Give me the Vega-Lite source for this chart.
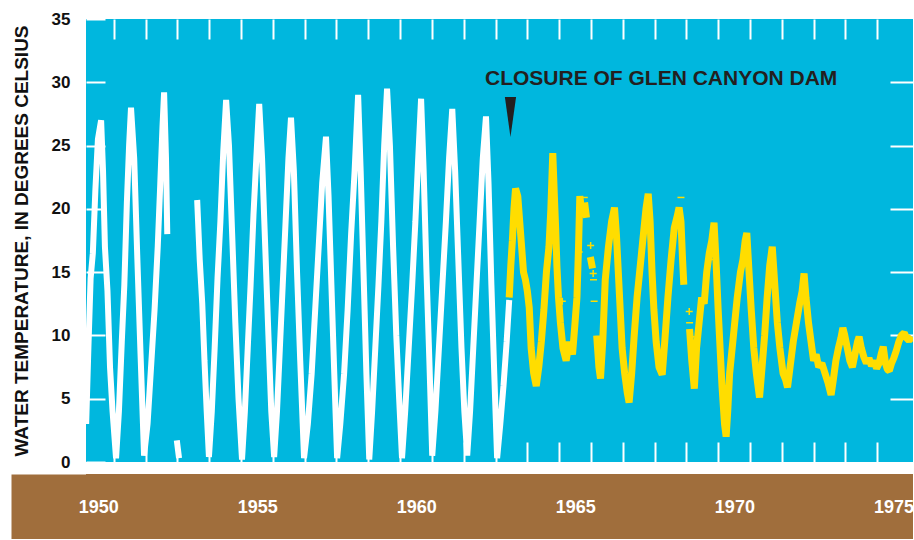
{
  "$schema": "https://vega.github.io/schema/vega-lite/v6.json",
  "background": "white",
  "padding": {"left": 12, "top": 10, "right": 0, "bottom": 0},
  "spacing": 4,
  "config": {
    "view": {"stroke": null},
    "font": "Liberation Sans",
    "axis": {"grid": false, "domain": false}
  },
  "datasets": {
    "temps": [
      {"t":1950.13,"v":3,"s":"pre"},{"t":1950.2,"v":9,"s":"pre"},{"t":1950.27,"v":14.5,"s":"pre"},{"t":1950.34,"v":16.5,"s":"pre"},{"t":1950.42,"v":21.5,"s":"pre"},{"t":1950.5,"v":25.5,"s":"pre"},{"t":1950.6,"v":27,"s":"pre"},{"t":1950.66,"v":23,"s":"pre"},{"t":1950.72,"v":17,"s":"pre"},{"t":1950.8,"v":13.5,"s":"pre"},{"t":1950.88,"v":7.5,"s":"pre"},{"t":1950.96,"v":4,"s":"pre"},{"t":1951.07,"v":0.3,"s":"pre"},
      {"t":1951.16,"v":4,"s":"pre"},{"t":1951.25,"v":9.5,"s":"pre"},{"t":1951.33,"v":14,"s":"pre"},{"t":1951.41,"v":20.5,"s":"pre"},{"t":1951.48,"v":25,"s":"pre"},{"t":1951.54,"v":28,"s":"pre"},{"t":1951.64,"v":24,"s":"pre"},{"t":1951.74,"v":16,"s":"pre"},{"t":1951.84,"v":8.5,"s":"pre"},{"t":1951.95,"v":0.5,"s":"pre"},
      {"t":1952.06,"v":3,"s":"pre"},{"t":1952.17,"v":7.5,"s":"pre"},{"t":1952.28,"v":12,"s":"pre"},{"t":1952.38,"v":17,"s":"pre"},{"t":1952.46,"v":22,"s":"pre"},{"t":1952.53,"v":26.5,"s":"pre"},{"t":1952.58,"v":29.2,"s":"pre"},{"t":1952.64,"v":24,"s":"pre"},{"t":1952.68,"v":18,"s":"pre"},{"t":1952.8,"v":null,"s":"pre"},
      {"t":1952.98,"v":1.7,"s":"pre"},{"t":1953.05,"v":0.3,"s":"pre"},{"t":1953.3,"v":null,"s":"pre"},
      {"t":1953.62,"v":20.7,"s":"pre"},{"t":1953.7,"v":16,"s":"pre"},{"t":1953.78,"v":12.5,"s":"pre"},{"t":1953.85,"v":8,"s":"pre"},{"t":1953.92,"v":4,"s":"pre"},{"t":1953.99,"v":0.4,"s":"pre"},
      {"t":1954.08,"v":4,"s":"pre"},{"t":1954.17,"v":9,"s":"pre"},{"t":1954.26,"v":14.5,"s":"pre"},{"t":1954.35,"v":19,"s":"pre"},{"t":1954.44,"v":24.5,"s":"pre"},{"t":1954.53,"v":28.6,"s":"pre"},{"t":1954.62,"v":25,"s":"pre"},{"t":1954.72,"v":18,"s":"pre"},{"t":1954.82,"v":11,"s":"pre"},{"t":1954.92,"v":5,"s":"pre"},{"t":1955.03,"v":0.2,"s":"pre"},
      {"t":1955.12,"v":4,"s":"pre"},{"t":1955.21,"v":9,"s":"pre"},{"t":1955.3,"v":14,"s":"pre"},{"t":1955.39,"v":19.5,"s":"pre"},{"t":1955.48,"v":24,"s":"pre"},{"t":1955.57,"v":28.3,"s":"pre"},{"t":1955.66,"v":24,"s":"pre"},{"t":1955.76,"v":17,"s":"pre"},{"t":1955.86,"v":10,"s":"pre"},{"t":1955.95,"v":4,"s":"pre"},{"t":1956.04,"v":0.4,"s":"pre"},
      {"t":1956.13,"v":4,"s":"pre"},{"t":1956.22,"v":9,"s":"pre"},{"t":1956.31,"v":14,"s":"pre"},{"t":1956.4,"v":19,"s":"pre"},{"t":1956.49,"v":24,"s":"pre"},{"t":1956.57,"v":27.2,"s":"pre"},{"t":1956.66,"v":23,"s":"pre"},{"t":1956.76,"v":15,"s":"pre"},{"t":1956.86,"v":8,"s":"pre"},{"t":1956.98,"v":0.3,"s":"pre"},
      {"t":1957.1,"v":3,"s":"pre"},{"t":1957.22,"v":7,"s":"pre"},{"t":1957.33,"v":12,"s":"pre"},{"t":1957.44,"v":17,"s":"pre"},{"t":1957.55,"v":22,"s":"pre"},{"t":1957.67,"v":25.7,"s":"pre"},{"t":1957.75,"v":21,"s":"pre"},{"t":1957.84,"v":14,"s":"pre"},{"t":1957.93,"v":7,"s":"pre"},{"t":1958.02,"v":0.3,"s":"pre"},
      {"t":1958.12,"v":3,"s":"pre"},{"t":1958.24,"v":7,"s":"pre"},{"t":1958.35,"v":12,"s":"pre"},{"t":1958.46,"v":18,"s":"pre"},{"t":1958.57,"v":23,"s":"pre"},{"t":1958.68,"v":29,"s":"pre"},{"t":1958.76,"v":23,"s":"pre"},{"t":1958.85,"v":15,"s":"pre"},{"t":1958.94,"v":7,"s":"pre"},{"t":1959.03,"v":0.2,"s":"pre"},
      {"t":1959.12,"v":4,"s":"pre"},{"t":1959.22,"v":9,"s":"pre"},{"t":1959.32,"v":14,"s":"pre"},{"t":1959.41,"v":19,"s":"pre"},{"t":1959.5,"v":25,"s":"pre"},{"t":1959.59,"v":29.5,"s":"pre"},{"t":1959.68,"v":25,"s":"pre"},{"t":1959.78,"v":17,"s":"pre"},{"t":1959.88,"v":10,"s":"pre"},{"t":1959.97,"v":5,"s":"pre"},{"t":1960.06,"v":0.3,"s":"pre"},
      {"t":1960.16,"v":4,"s":"pre"},{"t":1960.27,"v":9,"s":"pre"},{"t":1960.38,"v":14,"s":"pre"},{"t":1960.48,"v":19,"s":"pre"},{"t":1960.57,"v":24,"s":"pre"},{"t":1960.66,"v":28.7,"s":"pre"},{"t":1960.74,"v":23,"s":"pre"},{"t":1960.83,"v":15,"s":"pre"},{"t":1960.92,"v":8,"s":"pre"},{"t":1961.01,"v":0.5,"s":"pre"},
      {"t":1961.11,"v":4,"s":"pre"},{"t":1961.22,"v":9,"s":"pre"},{"t":1961.33,"v":14,"s":"pre"},{"t":1961.44,"v":19,"s":"pre"},{"t":1961.54,"v":24,"s":"pre"},{"t":1961.64,"v":27.9,"s":"pre"},{"t":1961.73,"v":23,"s":"pre"},{"t":1961.83,"v":16,"s":"pre"},{"t":1961.93,"v":9,"s":"pre"},{"t":1962.02,"v":4,"s":"pre"},{"t":1962.11,"v":0.5,"s":"pre"},
      {"t":1962.2,"v":4,"s":"pre"},{"t":1962.3,"v":9,"s":"pre"},{"t":1962.4,"v":14,"s":"pre"},{"t":1962.5,"v":19,"s":"pre"},{"t":1962.6,"v":24,"s":"pre"},{"t":1962.7,"v":27.3,"s":"pre"},{"t":1962.78,"v":22,"s":"pre"},{"t":1962.87,"v":14,"s":"pre"},{"t":1962.96,"v":7,"s":"pre"},{"t":1963.05,"v":0.3,"s":"pre"},
      {"t":1963.15,"v":3,"s":"pre"},{"t":1963.25,"v":6,"s":"pre"},{"t":1963.35,"v":9.5,"s":"pre"},{"t":1963.43,"v":12.8,"s":"pre"},

      {"t":1963.43,"v":13,"s":"post"},{"t":1963.48,"v":15.5,"s":"post"},{"t":1963.53,"v":17.5,"s":"post"},{"t":1963.58,"v":20,"s":"post"},{"t":1963.63,"v":21.6,"s":"post"},{"t":1963.7,"v":21,"s":"post"},{"t":1963.76,"v":19,"s":"post"},{"t":1963.82,"v":17,"s":"post"},{"t":1963.88,"v":15,"s":"post"},{"t":1963.94,"v":14.4,"s":"post"},{"t":1964.0,"v":13.5,"s":"post"},{"t":1964.06,"v":12.2,"s":"post"},{"t":1964.12,"v":9,"s":"post"},{"t":1964.2,"v":7,"s":"post"},{"t":1964.28,"v":6,"s":"post"},{"t":1964.36,"v":7.5,"s":"post"},{"t":1964.44,"v":9.5,"s":"post"},{"t":1964.52,"v":12,"s":"post"},{"t":1964.6,"v":15,"s":"post"},{"t":1964.68,"v":17,"s":"post"},{"t":1964.74,"v":20,"s":"post"},{"t":1964.8,"v":24.4,"s":"post"},{"t":1964.85,"v":21,"s":"post"},{"t":1964.89,"v":18.5,"s":"post"},{"t":1964.93,"v":15.5,"s":"post"},{"t":1964.98,"v":13,"s":"post"},
      {"t":1965.04,"v":11,"s":"post"},{"t":1965.12,"v":9,"s":"post"},{"t":1965.22,"v":8,"s":"post"},{"t":1965.32,"v":9.5,"s":"post"},{"t":1965.42,"v":8.5,"s":"post"},{"t":1965.5,"v":11,"s":"post"},{"t":1965.56,"v":13,"s":"post"},{"t":1965.61,"v":17,"s":"post"},{"t":1965.65,"v":21,"s":"post"},{"t":1965.7,"v":20,"s":"post"},{"t":1965.74,"v":null,"s":"post"},{"t":1965.8,"v":20.5,"s":"post"},{"t":1965.86,"v":19.3,"s":"post"},{"t":1965.92,"v":null,"s":"post"},{"t":1965.98,"v":16.2,"s":"post"},{"t":1966.05,"v":15.3,"s":"post"},{"t":1966.1,"v":null,"s":"post"},
      {"t":1966.18,"v":10,"s":"post"},{"t":1966.25,"v":7.5,"s":"post"},{"t":1966.3,"v":6.6,"s":"post"},{"t":1966.37,"v":9.5,"s":"post"},{"t":1966.45,"v":14.4,"s":"post"},{"t":1966.55,"v":17,"s":"post"},{"t":1966.65,"v":19,"s":"post"},{"t":1966.74,"v":20.1,"s":"post"},{"t":1966.8,"v":18,"s":"post"},{"t":1966.86,"v":15,"s":"post"},{"t":1966.92,"v":12,"s":"post"},{"t":1966.98,"v":9,"s":"post"},
      {"t":1967.06,"v":7,"s":"post"},{"t":1967.14,"v":5.5,"s":"post"},{"t":1967.2,"v":4.7,"s":"post"},{"t":1967.28,"v":7,"s":"post"},{"t":1967.36,"v":10,"s":"post"},{"t":1967.45,"v":13,"s":"post"},{"t":1967.55,"v":15.5,"s":"post"},{"t":1967.65,"v":18,"s":"post"},{"t":1967.73,"v":20,"s":"post"},{"t":1967.8,"v":21.2,"s":"post"},{"t":1967.86,"v":19,"s":"post"},{"t":1967.92,"v":15,"s":"post"},{"t":1967.98,"v":12,"s":"post"},
      {"t":1968.05,"v":9.5,"s":"post"},{"t":1968.14,"v":7.5,"s":"post"},{"t":1968.24,"v":6.9,"s":"post"},{"t":1968.32,"v":9.5,"s":"post"},{"t":1968.42,"v":13,"s":"post"},{"t":1968.52,"v":16,"s":"post"},{"t":1968.62,"v":18.5,"s":"post"},{"t":1968.72,"v":19.5,"s":"post"},{"t":1968.77,"v":20.1,"s":"post"},{"t":1968.83,"v":19,"s":"post"},{"t":1968.88,"v":16,"s":"post"},{"t":1968.92,"v":14,"s":"post"},{"t":1968.97,"v":null,"s":"post"},
      {"t":1969.1,"v":10.5,"s":"post"},{"t":1969.17,"v":8,"s":"post"},{"t":1969.25,"v":5.8,"s":"post"},{"t":1969.32,"v":9,"s":"post"},{"t":1969.4,"v":11,"s":"post"},{"t":1969.48,"v":13,"s":"post"},{"t":1969.56,"v":12.5,"s":"post"},{"t":1969.64,"v":15,"s":"post"},{"t":1969.72,"v":16.5,"s":"post"},{"t":1969.8,"v":17.5,"s":"post"},{"t":1969.87,"v":18.9,"s":"post"},{"t":1969.93,"v":16,"s":"post"},
      {"t":1970.0,"v":12,"s":"post"},{"t":1970.06,"v":9,"s":"post"},{"t":1970.12,"v":6,"s":"post"},{"t":1970.2,"v":3,"s":"post"},{"t":1970.25,"v":2,"s":"post"},{"t":1970.3,"v":4,"s":"post"},{"t":1970.36,"v":7,"s":"post"},{"t":1970.44,"v":9,"s":"post"},{"t":1970.52,"v":11,"s":"post"},{"t":1970.6,"v":13,"s":"post"},{"t":1970.7,"v":15,"s":"post"},{"t":1970.78,"v":16,"s":"post"},{"t":1970.85,"v":17.5,"s":"post"},{"t":1970.9,"v":18.1,"s":"post"},{"t":1970.97,"v":15,"s":"post"},
      {"t":1971.04,"v":12,"s":"post"},{"t":1971.12,"v":9,"s":"post"},{"t":1971.2,"v":7,"s":"post"},{"t":1971.3,"v":5.1,"s":"post"},{"t":1971.38,"v":7.5,"s":"post"},{"t":1971.46,"v":10,"s":"post"},{"t":1971.54,"v":13,"s":"post"},{"t":1971.62,"v":15.5,"s":"post"},{"t":1971.7,"v":17,"s":"post"},{"t":1971.78,"v":14,"s":"post"},{"t":1971.86,"v":11,"s":"post"},{"t":1971.94,"v":9,"s":"post"},
      {"t":1972.04,"v":7,"s":"post"},{"t":1972.12,"v":6.5,"s":"post"},{"t":1972.18,"v":5.9,"s":"post"},{"t":1972.26,"v":7.5,"s":"post"},{"t":1972.36,"v":9.5,"s":"post"},{"t":1972.46,"v":11,"s":"post"},{"t":1972.56,"v":12.5,"s":"post"},{"t":1972.64,"v":13.5,"s":"post"},{"t":1972.7,"v":14.9,"s":"post"},{"t":1972.76,"v":13,"s":"post"},{"t":1972.84,"v":11,"s":"post"},{"t":1972.92,"v":9.5,"s":"post"},
      {"t":1973.0,"v":8,"s":"post"},{"t":1973.08,"v":8.5,"s":"post"},{"t":1973.16,"v":7.5,"s":"post"},{"t":1973.26,"v":7.8,"s":"post"},{"t":1973.36,"v":7,"s":"post"},{"t":1973.46,"v":6.2,"s":"post"},{"t":1973.55,"v":5.3,"s":"post"},{"t":1973.62,"v":6.5,"s":"post"},{"t":1973.7,"v":8,"s":"post"},{"t":1973.78,"v":9,"s":"post"},{"t":1973.86,"v":9.8,"s":"post"},{"t":1973.92,"v":10.6,"s":"post"},{"t":1973.98,"v":10,"s":"post"},
      {"t":1974.06,"v":9,"s":"post"},{"t":1974.14,"v":8,"s":"post"},{"t":1974.22,"v":7.5,"s":"post"},{"t":1974.3,"v":8.5,"s":"post"},{"t":1974.38,"v":9.5,"s":"post"},{"t":1974.43,"v":9.9,"s":"post"},{"t":1974.5,"v":9,"s":"post"},{"t":1974.58,"v":8.3,"s":"post"},{"t":1974.66,"v":7.8,"s":"post"},{"t":1974.74,"v":8.2,"s":"post"},{"t":1974.82,"v":7.6,"s":"post"},{"t":1974.9,"v":8,"s":"post"},{"t":1974.98,"v":7.4,"s":"post"},
      {"t":1975.06,"v":7.8,"s":"post"},{"t":1975.13,"v":8.6,"s":"post"},{"t":1975.19,"v":9.1,"s":"post"},{"t":1975.26,"v":7.8,"s":"post"},{"t":1975.32,"v":7.3,"s":"post"},{"t":1975.38,"v":7.2,"s":"post"},{"t":1975.45,"v":7.8,"s":"post"},{"t":1975.52,"v":8.2,"s":"post"},{"t":1975.6,"v":8.8,"s":"post"},{"t":1975.68,"v":9.5,"s":"post"},{"t":1975.76,"v":10,"s":"post"},{"t":1975.85,"v":10.2,"s":"post"},{"t":1975.92,"v":9.8,"s":"post"},{"t":1976.0,"v":9.6,"s":"post"},{"t":1976.1,"v":9.9,"s":"post"}
    ],
    "singles": [
      {"t":1965.1,"v":12.7,"k":"cross"},
      {"t":1965.63,"v":16.6,"k":"cross"},
      {"t":1965.79,"v":20.9,"k":"dash"},
      {"t":1965.99,"v":17.1,"k":"cross"},
      {"t":1966.07,"v":14.9,"k":"cross"},
      {"t":1966.08,"v":14.4,"k":"dash"},
      {"t":1966.1,"v":12.7,"k":"dash"},
      {"t":1968.83,"v":20.9,"k":"dash"},
      {"t":1969.09,"v":11.9,"k":"cross"},
      {"t":1969.1,"v":11.0,"k":"dash"},
      {"t":1969.15,"v":9.9,"k":"cross"},
      {"t":1969.77,"v":16.0,"k":"dash"}
    ],
    "note": [
      {"t":1962.67,"v":30.25,"label":"CLOSURE OF GLEN CANYON DAM","pt":1963.47,"pv":27.25}
    ],
    "years": [
      {"year":1950},{"year":1955},{"year":1960},{"year":1965},{"year":1970},{"year":1975}
    ]
  },
  "vconcat": [
    {
      "width": 827,
      "height": 443,
      "view": {"fill": "#00B7DE", "stroke": null},
      "layer": [
        {
          "data": {"name": "temps"},
          "mark": {"type": "line", "strokeJoin": "bevel", "clip": true},
          "encoding": {
            "x": {
              "field": "t", "type": "quantitative",
              "scale": {"domain": [1950.125, 1976.125], "nice": false, "zero": false},
              "axis": {
                "orient": "bottom", "title": null, "labels": false, "domain": false, "grid": false,
                "values": [1951,1952,1953,1954,1955,1956,1957,1958,1959,1960,1961,1962,1963,1964,1965,1966,1967,1968,1969,1970,1971,1972,1973,1974,1975],
                "tickSize": -20, "tickColor": "white", "tickWidth": 2
              }
            },
            "y": {
              "field": "v", "type": "quantitative",
              "scale": {"domain": [0, 35], "nice": false, "zero": true},
              "axis": {
                "orient": "left", "values": [0,5,10,15,20,25,30,35],
                "title": "WATER TEMPERATURE, IN DEGREES CELSIUS",
                "titleFontSize": 19, "titleFontWeight": "bold", "titleColor": "#111111", "titlePadding": 20,
                "labelFontSize": 17, "labelFontWeight": "bold", "labelColor": "#111111", "labelPadding": 35,
                "tickSize": -19, "tickColor": "white", "tickWidth": 2, "domain": false, "grid": false
              }
            },
            "color": {
              "field": "s", "type": "nominal",
              "scale": {"domain": ["pre", "post"], "range": ["#FFFFFF", "#FFDD00"]},
              "legend": null
            },
            "strokeWidth": {
              "field": "s", "type": "nominal",
              "scale": {"domain": ["pre", "post"], "range": [6, 7]},
              "legend": null
            }
          }
        },
        {
          "data": {"name": "singles"},
          "mark": {"type": "point", "filled": false, "strokeWidth": 1.5, "color": "#FFDD00", "opacity": 1},
          "encoding": {
            "x": {
              "field": "t", "type": "quantitative",
              "axis": {
                "orient": "top", "title": null, "labels": false, "domain": false, "grid": false,
                "values": [1951,1952,1953,1954,1955,1956,1957,1958,1959,1960,1961,1962,1963,1964,1965,1966,1967,1968,1969,1970,1971,1972,1973,1974,1975],
                "tickSize": -20, "tickColor": "white", "tickWidth": 2
              }
            },
            "y": {
              "field": "v", "type": "quantitative",
              "axis": {
                "orient": "right", "title": null, "labels": false, "domain": false, "grid": false,
                "values": [5,10,15,20,25,30],
                "tickSize": -23, "tickColor": "white", "tickWidth": 2
              }
            },
            "shape": {
              "field": "k", "type": "nominal",
              "scale": {"domain": ["cross", "dash"], "range": ["M-1,0L1,0M0,-1L0,1", "M-1,0L1,0"]},
              "legend": null
            },
            "size": {"value": 49}
          }
        },
        {
          "data": {"name": "note"},
          "mark": {"type": "text", "align": "left", "baseline": "middle", "fontSize": 21, "fontWeight": "bold", "color": "#231F20"},
          "encoding": {
            "x": {"field": "t", "type": "quantitative", "axis": null},
            "y": {"field": "v", "type": "quantitative", "axis": null},
            "text": {"field": "label"}
          }
        },
        {
          "data": {"name": "note"},
          "mark": {"type": "point", "shape": "M-0.28,-1L0.28,-1L0,1Z", "filled": true, "color": "#231F20", "opacity": 1, "size": 1600},
          "encoding": {
            "x": {"field": "pt", "type": "quantitative", "axis": null},
            "y": {"field": "pv", "type": "quantitative", "axis": null}
          }
        }
      ],
      "resolve": {"axis": {"x": "independent", "y": "independent"}}
    },
    {
      "width": 827,
      "height": 65,
      "view": {"fill": "#A06E3C", "stroke": null},
      "data": {"name": "years"},
      "mark": {"type": "text", "fontSize": 18, "fontWeight": "bold", "color": "white", "baseline": "middle", "dy": 1},
      "encoding": {
        "x": {
          "field": "year", "type": "quantitative",
          "scale": {"domain": [1949.6, 1975.6], "nice": false, "zero": false},
          "axis": null
        },
        "y": {
          "datum": 0, "type": "quantitative",
          "scale": {"domain": [-1, 1]},
          "axis": {
            "orient": "left", "title": null, "labels": false, "ticks": false, "grid": false,
            "domain": true, "domainColor": "#A06E3C", "domainWidth": 75, "domainCap": "butt", "offset": 37.5
          }
        },
        "text": {"field": "year", "type": "quantitative", "format": "d"}
      }
    }
  ]
}
